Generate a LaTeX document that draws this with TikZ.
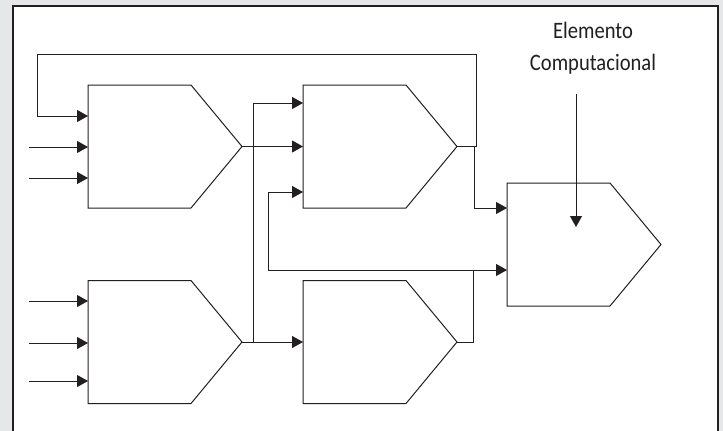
\documentclass[tikz,border=0pt]{standalone}
\usepackage{fontspec}
\usepackage{graphicx}
\setmainfont{Carlito}
\usetikzlibrary{arrows.meta,calc}
\definecolor{ink}{HTML}{231F20}
\definecolor{bg}{HTML}{E6E7E8}
\newcommand\blockshape[1]{%
  \draw[conn] (#1.north west) -- (#1.north east) -- ($(#1.east)+(51,0)$) coordinate (#1-tip)
    -- (#1.south east) -- (#1.south west) -- cycle;}
\newcommand\tallt[1]{\scalebox{0.98}[1.12]{#1}}
\begin{document}
\begin{tikzpicture}[x=1pt,y=-1pt,
  blkrect/.style={minimum width=103pt, minimum height=123pt, inner sep=0pt, outer sep=0pt, anchor=north west},
  conn/.style={draw=ink, line width=1pt, line join=miter},
  arr/.style={conn, -{Triangle[length=11pt,width=12pt]}},
  frame/.style={draw=ink, line width=2.5pt},
  label/.style={font=\fontsize{21}{32}\selectfont, align=center, text=ink, inner sep=0pt}]
\useasboundingbox (0,0) rectangle (723,431);
\fill[bg] (0,0) rectangle (723,431);
\fill[white] (13,6) rectangle (718,440);
\draw[frame] (13,440) -- (13,6) -- (718,6) -- (718,440);

% blocks
\node[blkrect] (A) at (88,85) {};
\node[blkrect] (B) at (303,85) {};
\node[blkrect] (C) at (88,280.5) {};
\node[blkrect] (D) at (303,280.5) {};
\node[blkrect] (E) at (507,183) {};
\blockshape{A}
\blockshape{B}
\blockshape{C}
\blockshape{D}
\blockshape{E}

% external inputs
\coordinate (inA2) at (29,147);
\coordinate (inA3) at (29,178);
\coordinate (inC1) at (29,301);
\coordinate (inC2) at (29,343);
\coordinate (inC3) at (29,381);
\foreach \c/\n in {inA2/A,inA3/A,inC1/C,inC2/C,inC3/C}
  \draw[arr] (\c) -- (\c -| \n.west);

% feedback B -> A
\coordinate (fbR) at (476,54);
\coordinate (fbL) at (37,54);
\coordinate (fbA) at (37,116);
\draw[arr] (B-tip) -- (B-tip -| fbR) -- (fbR) -- (fbL) -- (fbA) -- (fbA -| A.west);

% B -> E
\coordinate (bE) at (474,208);
\draw[arr] (B-tip -| bE) -- (bE) -- (bE -| E.west);

% A -> B
\draw[arr] (A-tip) -- (A-tip -| B.west);

% C -> D and C -> B
\coordinate (cB) at (253,103);
\draw[arr] (C-tip) -- (C-tip -| D.west);
\draw[arr] (C-tip -| cB) -- (cB) -- (cB -| B.west);

% loop from E-line to B third input
\coordinate (lB) at (268,192);
\coordinate (lE) at (268,270);
\draw[arr] (lE) -- (lB) -- (lB -| B.west);
\draw[arr] (lE) -- (lE -| E.west);

% D -> E line
\coordinate (dE) at (473,270);
\draw[conn] (D-tip) -- (D-tip -| dE) -- (dE);

% label
\node[label] (lbl) at (593,48) {\tallt{Elemento}\\\tallt{Computacional}};
\coordinate (lblS) at (576,94);
\coordinate (lblE) at (576,227);
\draw[arr] (lblS) -- (lblE);
\end{tikzpicture}
\end{document}
